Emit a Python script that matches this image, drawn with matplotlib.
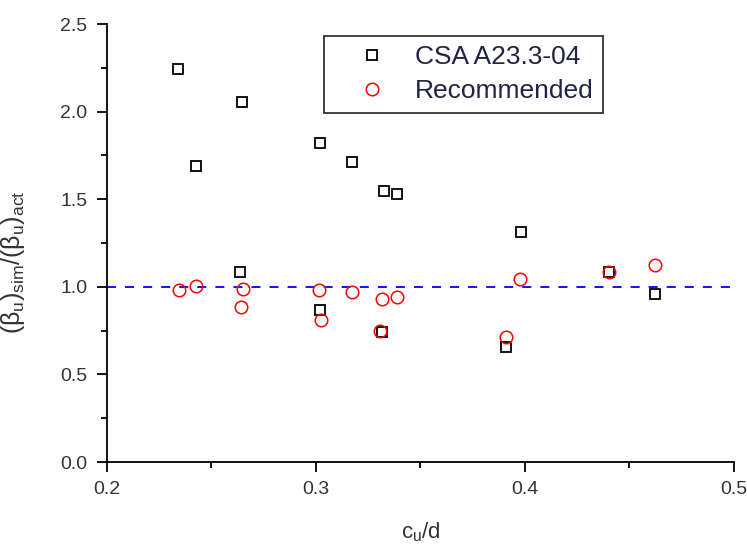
import matplotlib
matplotlib.use("Agg")
import matplotlib.pyplot as plt
from matplotlib.ticker import MultipleLocator, FormatStrFormatter

plt.rcParams['font.family'] = ['Liberation Sans', 'DejaVu Sans']
plt.rcParams['mathtext.fontset'] = 'custom'
plt.rcParams['mathtext.rm'] = 'Liberation Sans'
plt.rcParams['mathtext.it'] = 'Liberation Sans'
plt.rcParams['mathtext.bf'] = 'Liberation Sans'

# CSA A23.3-04 ratios
csa_x = [0.234, 0.2647, 0.2424, 0.302, 0.317, 0.3324, 0.3389, 0.2635, 0.302, 0.3314,
         0.398, 0.391, 0.440, 0.4623]
csa_y = [2.244, 2.055, 1.687, 1.821, 1.710, 1.549, 1.531, 1.084, 0.865, 0.741,
         1.313, 0.659, 1.082, 0.960]

# recommended method ratios
rec_x = [0.2346, 0.2424, 0.2649, 0.264, 0.3016, 0.3025, 0.3172, 0.3317, 0.339, 0.3308,
         0.3976, 0.391, 0.440, 0.4623]
rec_y = [0.979, 1.006, 0.987, 0.884, 0.979, 0.811, 0.970, 0.931, 0.943, 0.750,
         1.044, 0.716, 1.082, 1.127]

fig = plt.figure(figsize=(7.47, 5.51), dpi=100)
ax = fig.add_axes([0.1432, 0.1615, 0.8394, 0.7949])

ax.plot([0.2, 0.5], [1.0, 1.0], color='blue', linestyle=(0, (5, 5)), linewidth=1.3, zorder=1)
ax.plot(csa_x, csa_y, linestyle='none', marker='s', markersize=7.5, markerfacecolor='none',
        markeredgecolor='black', markeredgewidth=1.3, label='CSA A23.3-04', zorder=2)
ax.plot(rec_x, rec_y, linestyle='none', marker='o', markersize=9, markerfacecolor='none',
        markeredgecolor='red', markeredgewidth=1.1, label='Recommended', zorder=3)

ax.set_xlim(0.2, 0.5)
ax.set_ylim(0.0, 2.5)
ax.xaxis.set_major_locator(MultipleLocator(0.1))
ax.xaxis.set_minor_locator(MultipleLocator(0.05))
ax.yaxis.set_major_locator(MultipleLocator(0.5))
ax.yaxis.set_minor_locator(MultipleLocator(0.25))
ax.xaxis.set_major_formatter(FormatStrFormatter('%.1f'))
ax.yaxis.set_major_formatter(FormatStrFormatter('%.1f'))

ax.spines['top'].set_visible(False)
ax.spines['right'].set_visible(False)
for s in ['left', 'bottom']:
    ax.spines[s].set_linewidth(1.3)
ax.tick_params(which='major', direction='out', length=7, width=1.3, labelsize=14,
               labelcolor='#333333', pad=7)
ax.tick_params(which='minor', direction='out', length=4, width=1.3)

ax.set_xlabel(r'c$_u$/d', fontsize=16, color='#333333', labelpad=16)
ax.set_ylabel(r'$(\beta_u)_{sim}/(\beta_u)_{act}$', fontsize=18, color='#333333')
ax.yaxis.set_label_coords(-0.128, 0.457)

leg = ax.legend(loc='upper left', bbox_to_anchor=(0.346, 0.973), fontsize=19, frameon=True,
                fancybox=False, edgecolor='black', handletextpad=0.2, borderpad=0.36,
                labelspacing=0.37, handlelength=2.9, borderaxespad=0)
leg.get_frame().set_linewidth(1.3)
for t in leg.get_texts():
    t.set_color('#222244')

fig.savefig('out.png', dpi=100)
